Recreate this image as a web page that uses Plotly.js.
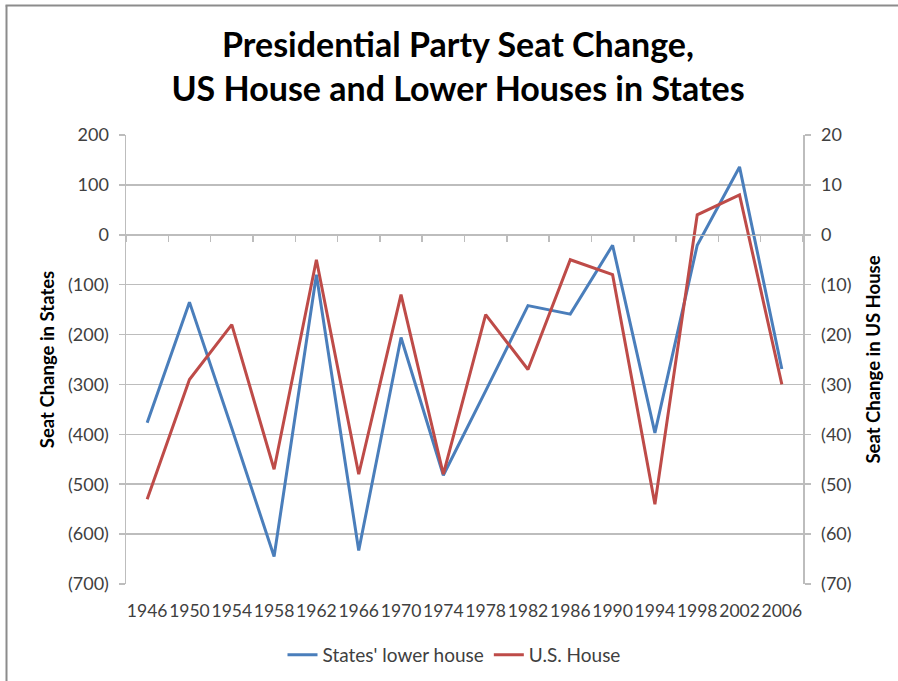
<!DOCTYPE html>
<html>
<head>
<meta charset="utf-8">
<script src="https://cdn.plot.ly/plotly-3.0.1.min.js"></script>
<style>
html,body{margin:0;padding:0;background:#fff;}
#chart{width:898px;height:681px;}
</style>
</head>
<body>
<div id="chart"></div>
<script>
const years = ['1946','1950','1954','1958','1962','1966','1970','1974','1978','1982','1986','1990','1994','1998','2002','2006'];
const statesLower = [-377, -135, -388, -645, -80, -633, -206, -482, -313, -142, -159, -21, -397, -21, 136, -269];
const usHouse = [-53, -29, -18, -47, -5, -48, -12, -48, -16, -27, -5, -8, -54, 4, 8, -30];
const leftTickVals = [-700, -600, -500, -400, -300, -200, -100, 0, 100, 200];
const leftTickText = ['(700)', '(600)', '(500)', '(400)', '(300)', '(200)', '(100)', '0', '100', '200'];
const rightTickVals = [-70, -60, -50, -40, -30, -20, -10, 0, 10, 20];
const rightTickText = ['(70)', '(60)', '(50)', '(40)', '(30)', '(20)', '(10)', '0', '10', '20'];
const seriesNames = ["States' lower house", 'U.S. House'];

const W = 898, H = 681;
const M = {l: 126, r: 95, t: 135, b: 97};
const pw = W - M.l - M.r, ph = H - M.t - M.b;
const px = v => (v - M.l) / pw;
const py = v => (H - M.b - v) / ph;

const gridCol = '#bdbdbd';
const txtCol = '#404040';
const FONT = 'Lato, "Open Sans", sans-serif';

const idx = years.map((_, i) => i);
const boundaries = [-0.5].concat(idx.map(i => i + 0.5));
const zeroPos = (0 - leftTickVals[0]) / (leftTickVals[leftTickVals.length - 1] - leftTickVals[0]);

const traces = [
  {x: years, y: statesLower, name: seriesNames[0], type: 'scatter', mode: 'lines',
   line: {color: '#4a7ebb', width: 3}, xaxis: 'x', yaxis: 'y'},
  {x: years, y: usHouse, name: seriesNames[1], type: 'scatter', mode: 'lines',
   line: {color: '#be4b48', width: 3}, xaxis: 'x', yaxis: 'y2'},
  // invisible helper so the zero-crossing category axis (x2) is drawn
  {x: idx, y: statesLower, type: 'scatter', mode: 'lines', opacity: 0, showlegend: false,
   hoverinfo: 'skip', line: {width: 0, color: 'rgba(0,0,0,0)'}, xaxis: 'x2', yaxis: 'y'}
];

const layout = {
  width: W, height: H,
  margin: M,
  paper_bgcolor: '#fff', plot_bgcolor: '#fff',
  showlegend: true,
  font: {family: FONT, color: txtCol, size: 16},
  title: {
    text: 'Presidential Party Seat Change,<br>US House and Lower Houses in States',
    font: {family: FONT, size: 34, color: '#000', weight: 'bold'},
    xref: 'paper', x: px(458), xanchor: 'center',
    yref: 'container', y: 1 - 57 / H, yanchor: 'middle',
    automargin: false
  },
  xaxis: {
    type: 'category', categoryorder: 'array', categoryarray: years,
    range: [-0.5, years.length - 0.5],
    showgrid: false, zeroline: false, showline: false, ticks: '',
    tickangle: 0, automargin: false,
    tickfont: {family: FONT, size: 17.5, color: txtCol},
    ticklabelstandoff: 14,
    fixedrange: true
  },
  xaxis2: {
    overlaying: 'x', anchor: 'free', position: zeroPos,
    type: 'linear', range: [-0.5, years.length - 0.5],
    tickmode: 'array', tickvals: boundaries, showticklabels: false,
    ticks: 'outside', ticklen: 6, tickcolor: gridCol, tickwidth: 1.5,
    showline: true, linecolor: gridCol, linewidth: 1.5, automargin: false,
    showgrid: false, zeroline: false, fixedrange: true
  },
  yaxis: {
    range: [leftTickVals[0], leftTickVals[leftTickVals.length - 1]],
    tickmode: 'array', tickvals: leftTickVals, ticktext: leftTickText,
    showgrid: true, gridcolor: gridCol, gridwidth: 1.5,
    zeroline: false, showline: true, linecolor: gridCol, linewidth: 1.5,
    ticks: 'outside', ticklen: 6, tickcolor: gridCol, tickwidth: 1.5,
    tickfont: {family: FONT, size: 18, color: txtCol},
    ticklabelstandoff: 6, automargin: false,
    title: {text: 'Seat Change in States', font: {family: FONT, size: 18.5, color: '#000', weight: 'bold'}, standoff: 8},
    fixedrange: true
  },
  yaxis2: {
    overlaying: 'y', side: 'right', anchor: 'x',
    range: [rightTickVals[0], rightTickVals[rightTickVals.length - 1]],
    tickmode: 'array', tickvals: rightTickVals, ticktext: rightTickText,
    showgrid: false, zeroline: false, showline: true, linecolor: gridCol, linewidth: 1.5,
    ticks: 'outside', ticklen: 6, tickcolor: gridCol, tickwidth: 1.5,
    tickfont: {family: FONT, size: 18, color: txtCol},
    ticklabelstandoff: 7, automargin: false,
    title: {text: 'Seat Change in US House', font: {family: FONT, size: 18.5, color: '#000', weight: 'bold'}, standoff: 16},
    fixedrange: true
  },
  legend: {
    orientation: 'h', xref: 'container', yref: 'container',
    x: 454 / W, xanchor: 'center', y: 1 - 655 / H, yanchor: 'middle',
    font: {family: FONT, size: 19, color: txtCol},
    bgcolor: 'rgba(0,0,0,0)', itemwidth: 30, traceorder: 'normal'
  },
  shapes: [
    {type: 'line', xref: 'paper', yref: 'paper', x0: px(6.5), x1: px(6.5), y0: py(H + 2), y1: py(5.5),
     line: {color: '#8c8c8c', width: 2}},
    {type: 'line', xref: 'paper', yref: 'paper', x0: px(5.5), x1: px(W + 2), y0: py(5.5), y1: py(5.5),
     line: {color: '#8c8c8c', width: 2}}
  ]
};

Plotly.newPlot('chart', traces, layout, {displayModeBar: false, staticPlot: true});
</script>
</body>
</html>
